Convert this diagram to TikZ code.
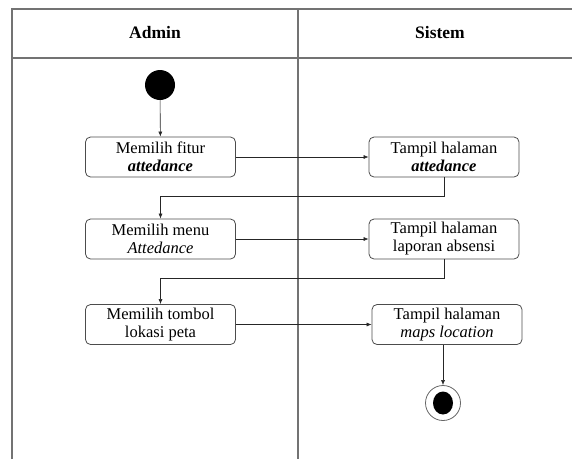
\documentclass[tikz,border=0pt]{standalone}
\usepackage{fontspec}
\setmainfont{Liberation Serif}
\usetikzlibrary{arrows.meta}

\begin{document}
\begin{tikzpicture}[x=1pt,y=-1pt,
        aktivitas/.style={draw=black!70,line width=0.8pt,rounded corners=5pt,minimum width=150pt,minimum height=40pt,
          align=center,inner sep=1pt,font=\fontsize{16.5}{18}\selectfont},
        judul/.style={font=\fontsize{17.5}{20}\selectfont\bfseries},
        alur/.style={draw=black!85,line width=0.6pt,-{Latex[length=5pt,width=4pt]}},
        garis/.style={draw=black!55,line width=1.2pt}]
        \useasboundingbox (0,0) rectangle (572,459);
        % lajur
        \draw[garis] (12,459) -- (12,9) -- (572,9);
        \draw[garis] (12,58) -- (572,58);
        \draw[garis] (298,9) -- (298,459);
        \node[judul] (admin) at (155,33) {Admin};
        \node[judul] (sistem) at (440,33) {Sistem};
        % aktivitas
        \node[circle,fill=black,minimum size=30pt,inner sep=0pt] (mulai) at (160,85) {};
        \node[aktivitas] (fitur) at (160.5,157) {Memilih fitur\\\textbf{\textit{attedance}}};
        \node[aktivitas] (hlmattd) at (444,157) {Tampil halaman\\\textbf{\textit{attedance}}};
        \node[aktivitas] (menu) at (160.5,239) {Memilih menu\\\textit{Attedance}};
        \node[aktivitas] (laporan) at (444,239) {Tampil halaman\\laporan absensi};
        \node[aktivitas] (tombol) at (160.5,324.5) {Memilih tombol\\lokasi peta};
        \node[aktivitas] (maps) at (447,324.5) {Tampil halaman\\\textit{maps location}};
        \node[circle,draw=black!60,line width=0.8pt,minimum size=35pt,inner sep=0pt] (selesai) at (443,403) {};
        \fill (selesai) ellipse (10 and 11.5);
        % alur
        \draw[alur] (mulai) -- (fitur);
        \draw[alur] (fitur) -- (hlmattd);
        \draw[alur] (hlmattd.south) -- ++(0,19) -| (menu.north);
        \draw[alur] (menu) -- (laporan);
        \draw[alur] (laporan.south) -- ++(0,19) -| (tombol.north);
        \draw[alur] (tombol) -- (maps);
        \draw[alur] (selesai |- maps.south) -- (selesai);
\end{tikzpicture}
\end{document}
